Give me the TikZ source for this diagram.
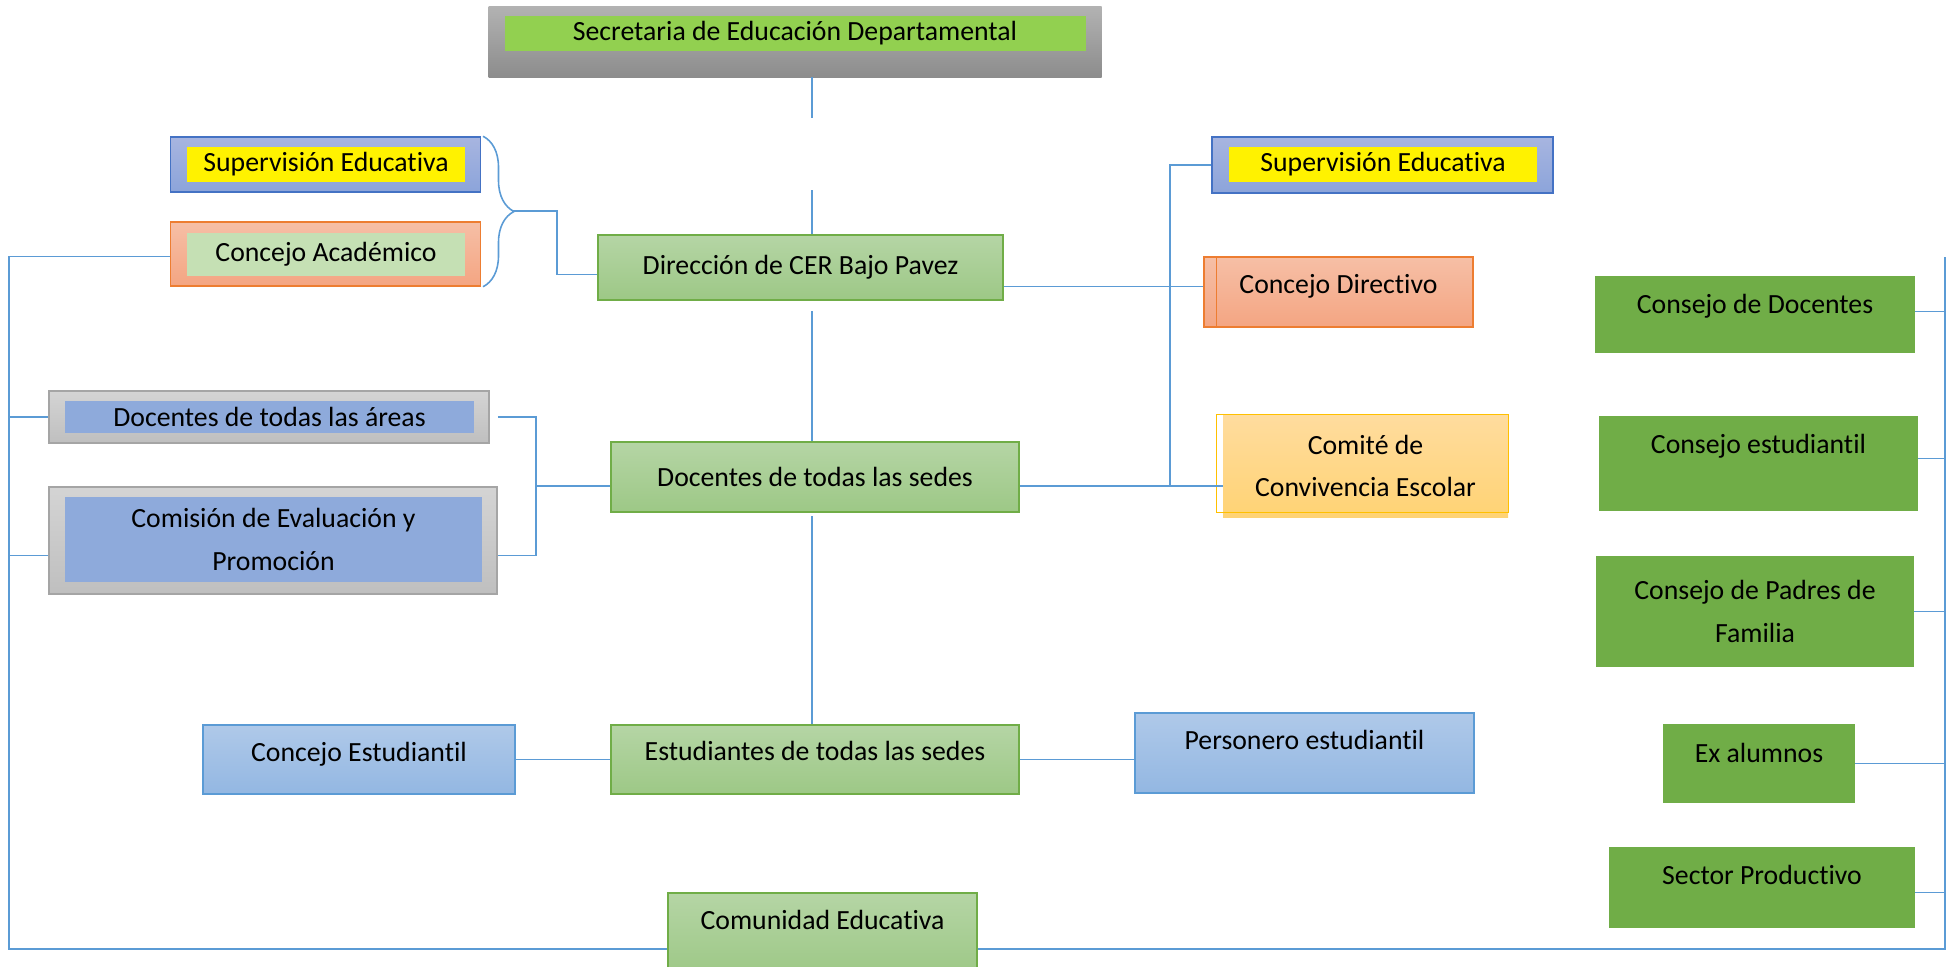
\documentclass[tikz,border=0pt]{standalone}
\usepackage{fontspec}
\setmainfont{Carlito}[Ligatures=NoCommon]
\usetikzlibrary{decorations.pathreplacing}

\definecolor{lineblue}{HTML}{5B9BD5}
\definecolor{greenline}{HTML}{70AD47}
\definecolor{greentop}{HTML}{B5D5A5}
\definecolor{greenbot}{HTML}{9DC886}
\definecolor{darkgreen}{HTML}{70AD47}
\definecolor{limegreen}{HTML}{92D050}
\definecolor{paleGreen}{HTML}{C5E0B4}
\definecolor{supline}{HTML}{4472C4}
\definecolor{suptop}{HTML}{A7B5E0}
\definecolor{supbot}{HTML}{8CA4DA}
\definecolor{orline}{HTML}{ED7D31}
\definecolor{ortop}{HTML}{F6BFA6}
\definecolor{orbot}{HTML}{F4A582}
\definecolor{grayline}{HTML}{A5A5A5}
\definecolor{graytop}{HTML}{D4D4D4}
\definecolor{graybot}{HTML}{BFBFBF}
\definecolor{areablue}{HTML}{8EAADB}
\definecolor{bluetop}{HTML}{AFC9E9}
\definecolor{bluebot}{HTML}{93B7E2}
\definecolor{goldline}{HTML}{FFC000}
\definecolor{goldtop}{HTML}{FFDC9E}
\definecolor{goldbot}{HTML}{FFD374}

\tikzset{
  wh/.style 2 args={minimum width=#1*0.02cm, minimum height=#2*0.02cm, inner sep=0pt},
  up/.style={text height=11pt, text depth=#1},
  conn/.style={draw=lineblue, line width=0.9pt},
  greenbox/.style={draw=greenline, top color=greentop, bottom color=greenbot, line width=0.85pt},
  solidgreen/.style={fill=darkgreen},
  secrbox/.style={top color=black!30, bottom color=black!45},
  supbox/.style={draw=supline, top color=suptop, bottom color=supbot, line width=0.85pt},
  orbox/.style={draw=orline, top color=ortop, bottom color=orbot, line width=0.85pt},
  graybox/.style={draw=grayline, top color=graytop, bottom color=graybot, line width=0.85pt},
  bluebox/.style={draw=lineblue, top color=bluetop, bottom color=bluebot, line width=0.85pt},
  goldbox/.style={top color=goldtop, bottom color=goldbot},
  every node/.style={font=\fontsize{15.8}{24}\selectfont, align=center}
}

\begin{document}
\begin{tikzpicture}[x=0.02cm, y=-0.02cm]
\useasboundingbox (0,0) rectangle (1951,967);

% top
\node[secrbox, wh={613}{71}] (secrO) at (795,41.5) {};
\node[fill=limegreen, wh={581}{35}] (secr) at (795,33.5) {Secretaria de Educación Departamental};

% left pair with brace
\node[supbox, wh={310}{55}] (supLO) at (325.5,164.5) {};
\node[fill=yellow, wh={278}{35}] (supL) at (326,164.5) {Supervisión Educativa};
\node[orbox, wh={310}{64}] (acaO) at (325.5,254) {};
\node[fill=paleGreen, wh={278}{43}] (aca) at (326,254.5) {Concejo Académico};

% centre column
\node[greenbox, wh={405}{65}] (dir) at (800.5,267.5) {Dirección de CER Bajo Pavez};
\node[greenbox, wh={408}{70}] (doc) at (815,477) {Docentes de todas las sedes};
\node[greenbox, wh={408}{69}, up=9.8pt] (est) at (815,759.5) {Estudiantes de todas las sedes};
\node[greenbox, wh={309}{82}, up=16pt] (comu) at (822.5,934) {Comunidad Educativa};

% right of centre
\node[supbox, wh={341}{56}] (supRO) at (1382.5,165) {};
\node[fill=yellow, wh={308}{35}] (supR) at (1383,164.5) {Supervisión Educativa};
\node[orbox, wh={269}{70}, up=9.2pt] (cdir) at (1338.5,292) {Concejo Directivo};
\draw[orline, line width=0.7pt] ([xshift=0.26cm]cdir.north west) -- ([xshift=0.26cm]cdir.south west);
\node[goldbox, wh={285}{102}] (com) at (1365.5,466) {Comité de\\Convivencia Escolar};
\draw[goldline, line width=0.85pt] ([xshift=-0.12cm]com.north west) rectangle ([yshift=0.1cm]com.south east);

% left middle
\node[graybox, wh={440}{52}] (docAO) at (269,417) {};
\node[fill=areablue, wh={409}{32}] (docA) at (269.5,417) {Docentes de todas las áreas};
\node[graybox, wh={448}{107}] (comiO) at (273,540.5) {};
\node[fill=areablue, wh={417}{85}] (comi) at (273.5,539.5) {Comisión de Evaluación y\\Promoción};

% bottom row
\node[bluebox, wh={312}{69}, up=8.6pt] (cest) at (359,759.5) {Concejo Estudiantil};
\node[bluebox, wh={339}{80}, up=14.9pt] (pers) at (1304.5,753) {Personero estudiantil};

% right column
\node[solidgreen, wh={320}{77}, up=12.6pt] (cdoc) at (1755,314.5) {Consejo de Docentes};
\node[solidgreen, wh={319}{95}, up=22.8pt] (cestu) at (1758.5,463.5) {Consejo estudiantil};
\node[solidgreen, wh={318}{111}] (cpad) at (1755,611.5) {Consejo de Padres de\\Familia};
\node[solidgreen, wh={192}{79}, up=12.6pt] (exal) at (1759,763.5) {Ex alumnos};
\node[solidgreen, wh={306}{81}, up=14.3pt] (sect) at (1762,887.5) {Sector Productivo};

% connectors
\coordinate (t1) at (812,118);
\coordinate (t2) at (812,190);
\coordinate (t3) at (812,311);
\coordinate (t4) at (812,516);
\draw[conn] (t1 |- secrO.south) -- (t1);
\draw[conn] (t2) -- (t2 |- dir.north);
\draw[conn] (t3) -- (t3 |- doc.north);
\draw[conn] (t4) -- (t4 |- est.north);

\draw[conn, decorate, decoration={brace, amplitude=0.62cm}] ([xshift=1pt]supLO.north east) -- ([xshift=1pt]acaO.south east);
\coordinate (bt) at (513,211);
\draw[conn] (bt) -- ++(44,0) |- ([yshift=-0.14cm]dir.west);

\draw[conn] ([yshift=-0.38cm]dir.east) -- ([yshift=-0.38cm]dir.east -| cdir.west);
\coordinate (rj) at (1170,486);
\draw[conn] (supRO.west) -| (rj);
\draw[conn] ([yshift=-0.18cm]doc.east) -- ([yshift=-0.18cm]doc.east -| com.west);

\coordinate (lb) at (536,486);
\draw[conn] ([xshift=0.16cm]docAO.east) -| (lb) |- ([yshift=-0.3cm]comiO.east);
\draw[conn] (lb) -- (lb -| doc.west);

\coordinate (lv) at (9,949);
\draw[conn] ([yshift=-0.05cm]acaO.west) -| (lv) -- (lv -| comu.west);
\draw[conn] (docAO.west) -- (docAO.west -| lv);
\draw[conn] ([yshift=-0.3cm]comiO.west) -- ([yshift=-0.3cm]comiO.west -| lv);

\draw[conn] (cest.east) -- (est.west);
\draw[conn] (est.east) -- (est.east -| pers.west);

\coordinate (rv) at (1945,949);
\coordinate (rvtop) at (1945,257);
\draw[conn] (comu.east |- rv) -- (rv) -- (rvtop);
\draw[conn] ([yshift=0.06cm]cdoc.east) -- ([yshift=0.06cm]cdoc.east -| rv);
\draw[conn] ([yshift=0.1cm]cestu.east) -- ([yshift=0.1cm]cestu.east -| rv);
\draw[conn] (cpad.east) -- (cpad.east -| rv);
\draw[conn] (exal.east) -- (exal.east -| rv);
\draw[conn] ([yshift=-0.1cm]sect.east) -- ([yshift=-0.1cm]sect.east -| rv);
\end{tikzpicture}
\end{document}
